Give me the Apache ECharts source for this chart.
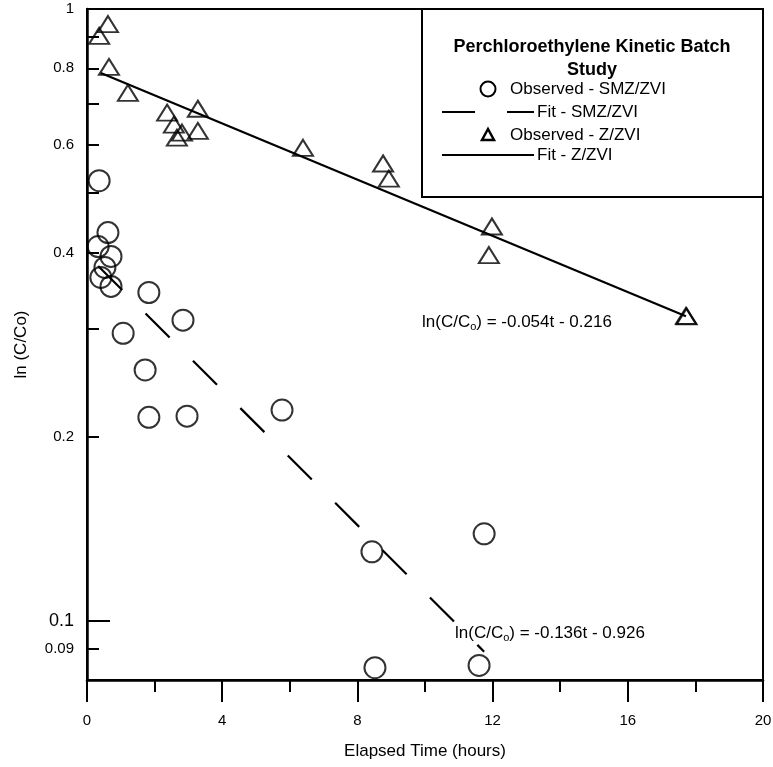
<!DOCTYPE html>
<html>
<head>
<meta charset="utf-8">
<script src="https://cdn.jsdelivr.net/npm/echarts@6/dist/echarts.min.js"></script>
<style>
html,body{margin:0;padding:0;background:#fff;}
#c{width:773px;height:767px;}
</style>
</head>
<body>
<div id="c"></div>
<script>
// ---- data ----
const smzTime = [0.36, 0.62, 0.33, 0.71, 0.53, 0.41, 0.71, 1.83, 2.84, 1.07, 1.72, 1.83, 2.96, 5.77, 8.43, 11.75, 8.52, 11.60];
const smzObs  = [0.524, 0.431, 0.409, 0.394, 0.378, 0.364, 0.352, 0.344, 0.310, 0.295, 0.257, 0.215, 0.216, 0.221, 0.1296, 0.1387, 0.0838, 0.0845];
const zTime = [0.62, 0.36, 0.65, 1.21, 2.37, 3.28, 2.57, 2.81, 3.28, 2.66, 6.39, 8.76, 8.93, 11.98, 11.89, 17.72, 17.74];
const zObs  = [0.945, 0.904, 0.804, 0.729, 0.677, 0.687, 0.647, 0.628, 0.632, 0.616, 0.593, 0.559, 0.528, 0.441, 0.396, 0.315, 0.3145];
const smzFitTime = [0.33, 11.75];
const smzFitVal  = [0.380, 0.089];
const zFitTime = [0.41, 17.72];
const zFitVal  = [0.786, 0.3146];
const xTicks = [0, 4, 8, 12, 16, 20];
const yTickValues = [1, 0.9, 0.8, 0.7, 0.6, 0.5, 0.4, 0.3, 0.2, 0.1, 0.09];
const yLabelValues = [1, 0.8, 0.6, 0.4, 0.2, 0.1, 0.09];
const legendTitle = ['Perchloroethylene Kinetic Batch', 'Study'];
const legendNames = ['Observed - SMZ/ZVI', 'Fit - SMZ/ZVI', 'Observed - Z/ZVI', 'Fit - Z/ZVI'];
const eqZ = 'ln(C/C{s|o}) = -0.054t - 0.216';
const eqSMZ = 'ln(C/C{s|o}) = -0.136t - 0.926';

const FONT = '"Liberation Sans", Arial, Helvetica, sans-serif';
const pairs = (a, b) => a.map((v, i) => [v, b[i]]);

const chart = echarts.init(document.getElementById('c'), null, {renderer: 'canvas'});

const yBase = {
  type: 'log', logBase: 10, min: 0.08, max: 1, position: 'left',
  splitLine: {show: false}
};

const option = {
  animation: false,
  backgroundColor: '#fff',
  grid: {
    left: 87, right: 10, top: 9, bottom: 87,
    containLabel: false, outerBoundsMode: 'none',
    show: true, borderColor: '#000', borderWidth: 2, backgroundColor: 'transparent'
  },
  xAxis: {
    type: 'value', min: 0, max: 20, interval: 4,
    name: 'Elapsed Time (hours)', nameLocation: 'middle', nameGap: 63,
    nameTextStyle: {fontFamily: FONT, fontSize: 17, color: '#000'},
    axisLine: {show: true, onZero: false, lineStyle: {color: '#000', width: 2.5}},
    axisTick: {show: true, inside: false, length: 22, lineStyle: {color: '#000', width: 2}},
    minorTick: {show: true, splitNumber: 2, length: 12, lineStyle: {color: '#000', width: 2}},
    axisLabel: {fontFamily: FONT, fontSize: 15, color: '#000', margin: 33,
      formatter: v => xTicks.includes(v) ? String(v) : ''},
    splitLine: {show: false}, minorSplitLine: {show: false}
  },
  yAxis: [
    Object.assign({}, yBase, {
      name: 'ln (C/Co)', nameLocation: 'middle', nameGap: 57, nameRotate: 90,
      nameTextStyle: {fontFamily: FONT, fontSize: 17, color: '#000'},
      axisLine: {show: true, onZero: false, lineStyle: {color: '#000', width: 2.5}},
      axisTick: {show: true, inside: true, length: 12, lineStyle: {color: '#000', width: 2}, customValues: yTickValues},
      axisLabel: {fontFamily: FONT, fontSize: 15, color: '#000', margin: 13, customValues: yLabelValues,
        formatter: v => (Math.abs(v - 0.1) < 1e-9 ? '{b|0.1}' : String(+v.toPrecision(3))),
        rich: {b: {fontFamily: FONT, fontSize: 18, color: '#000'}}}
    }),
    Object.assign({}, yBase, {
      axisLine: {show: false},
      axisTick: {show: true, inside: true, length: 23, lineStyle: {color: '#000', width: 2}, customValues: [0.1]},
      axisLabel: {show: false}
    })
  ],
  series: [
    {
      name: legendNames[1], type: 'line', data: pairs(smzFitTime, smzFitVal),
      symbol: 'none', lineStyle: {color: '#000', width: 2.2, type: [34, 33]}, z: 2
    },
    {
      name: legendNames[3], type: 'line', data: pairs(zFitTime, zFitVal),
      symbol: 'none', lineStyle: {color: '#000', width: 2.2, type: 'solid'}, z: 2
    },
    {
      name: legendNames[0], type: 'scatter', data: pairs(smzTime, smzObs),
      symbol: 'circle', symbolSize: 21,
      itemStyle: {color: 'rgba(0,0,0,0)', borderColor: '#000', borderWidth: 2}, z: 3
    },
    {
      name: legendNames[2], type: 'scatter', data: pairs(zTime, zObs),
      symbol: 'triangle', symbolSize: [20, 16],
      itemStyle: {color: 'rgba(0,0,0,0)', borderColor: '#000', borderWidth: 2}, z: 3
    }
  ],
  graphic: [
    {type: 'rect', z: 100, shape: {x: 422, y: 9, width: 341, height: 188},
     style: {fill: '#fff', stroke: '#000', lineWidth: 2}},
    {type: 'text', z: 101, x: 592, y: 47, style: {text: legendTitle[0], font: 'bold 18px ' + FONT, fill: '#000', align: 'center', verticalAlign: 'middle'}},
    {type: 'text', z: 101, x: 592, y: 70, style: {text: legendTitle[1], font: 'bold 18px ' + FONT, fill: '#000', align: 'center', verticalAlign: 'middle'}},
    {type: 'circle', z: 101, shape: {cx: 488, cy: 89, r: 7.5}, style: {fill: 'none', stroke: '#000', lineWidth: 2}},
    {type: 'text', z: 101, x: 510, y: 89, style: {text: legendNames[0], font: '17px ' + FONT, fill: '#000', align: 'left', verticalAlign: 'middle'}},
    {type: 'line', z: 101, shape: {x1: 442, y1: 112, x2: 534, y2: 112}, style: {stroke: '#000', lineWidth: 2, lineDash: [33, 32]}},
    {type: 'text', z: 101, x: 537, y: 112, style: {text: legendNames[1], font: '17px ' + FONT, fill: '#000', align: 'left', verticalAlign: 'middle'}},
    {type: 'polygon', z: 101, shape: {points: [[488, 129], [482, 140], [494, 140]]}, style: {fill: 'none', stroke: '#000', lineWidth: 2.5}},
    {type: 'text', z: 101, x: 510, y: 135, style: {text: legendNames[2], font: '17px ' + FONT, fill: '#000', align: 'left', verticalAlign: 'middle'}},
    {type: 'line', z: 101, shape: {x1: 442, y1: 155, x2: 534, y2: 155}, style: {stroke: '#000', lineWidth: 2}},
    {type: 'text', z: 101, x: 537, y: 155, style: {text: legendNames[3], font: '17px ' + FONT, fill: '#000', align: 'left', verticalAlign: 'middle'}},
    {type: 'text', z: 101, x: 422, y: 322, style: {text: eqZ, font: '17px ' + FONT, fill: '#000', align: 'left', verticalAlign: 'middle',
      rich: {s: {fontFamily: FONT, fontSize: 11, fill: '#000', padding: [9, 0, 0, 0]}}}},
    {type: 'text', z: 101, x: 455, y: 633, style: {text: eqSMZ, font: '17px ' + FONT, fill: '#000', align: 'left', verticalAlign: 'middle',
      rich: {s: {fontFamily: FONT, fontSize: 11, fill: '#000', padding: [9, 0, 0, 0]}}}}
  ]
};
chart.setOption(option);
</script>
</body>
</html>
